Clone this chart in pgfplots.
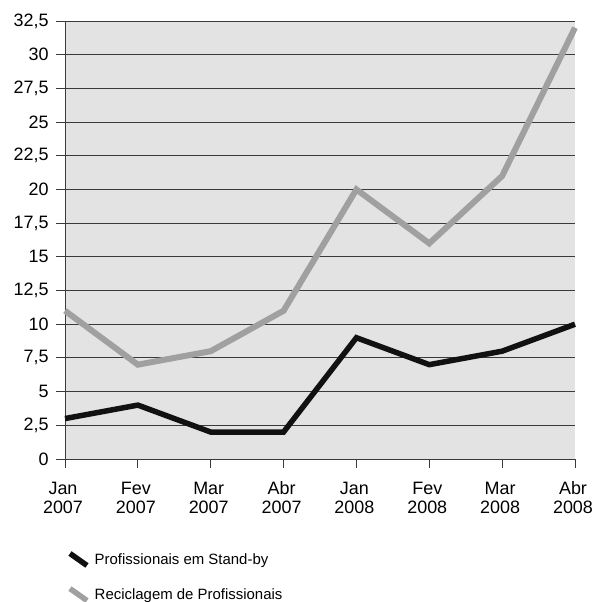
\documentclass[border=0pt]{standalone}
\usepackage{pgfplots}
\pgfplotsset{compat=1.18}
\usepackage{fontspec}
\setmainfont{Liberation Sans}

\definecolor{standby}{HTML}{111111}
\definecolor{recicl}{HTML}{A0A0A0}
\definecolor{plotbg}{HTML}{E3E3E4}
\definecolor{gridc}{HTML}{3A3A3A}

\newcommand{\mlab}[2]{\strut #1\\#2}

\begin{document}
\begin{tikzpicture}
\begin{axis}[
  scale only axis,
  width=510bp, height=438bp,
  xmin=0, xmax=7, ymin=0, ymax=32.5,
  axis x line*=bottom, axis y line*=left,
  axis line style={gridc, line width=1pt},
  axis background/.style={fill=plotbg},
  clip=false,
  ymajorgrids,
  grid style={gridc, line width=0.9pt},
  ytick={0,2.5,...,32.5},
  xtick={0,...,7},
  xticklabels={{\mlab{Jan}{2007}},{\mlab{Fev}{2007}},{\mlab{Mar}{2007}},{\mlab{Abr}{2007}},
               {\mlab{Jan}{2008}},{\mlab{Fev}{2008}},{\mlab{Mar}{2008}},{\mlab{Abr}{2008}}},
  tick align=outside,
  major tick length=9bp,
  tick style={gridc, line width=0.9pt},
  xticklabel style={align=center, font=\fontsize{18}{19}\selectfont, yshift=-9.5bp, xshift=-2bp},
  yticklabel style={font=\fontsize{18}{20}\selectfont, xshift=-4bp},
  /pgf/number format/.cd, use comma, fixed, precision=1,
  assume math mode=true,
  /pgfplots/.cd,
  legend cell align=left,
  legend style={at={(0.004,-0.2090)}, anchor=north west, draw=none, fill=none,
    inner sep=0pt, row sep=17.6bp, font=\fontsize{15}{16}\selectfont,
    /tikz/every odd column/.append style={column sep=3bp}},
  legend image code/.code={\draw[#1, line width=5.5bp, line cap=butt] (-1bp,6bp) -- (16bp,-6bp);},
]
\addplot[standby, line width=5.5bp, mark=none] coordinates {
  (0,3) (1,4) (2,2) (3,2) (4,9) (5,7) (6,8) (7,10)};
\addlegendentry{Profissionais em Stand-by}
\addplot[recicl, line width=6bp, mark=none] coordinates {
  (0,11) (1,7) (2,8) (3,11) (4,20) (5,16) (6,21) (7,32)};
\addlegendentry{Reciclagem de Profissionais}
\coordinate (O) at (rel axis cs:0,0);
\end{axis}
\pgfresetboundingbox
\path[use as bounding box] (O) ++(-65bp,-143bp) rectangle ++(596bp,602bp);
\end{tikzpicture}
\end{document}
